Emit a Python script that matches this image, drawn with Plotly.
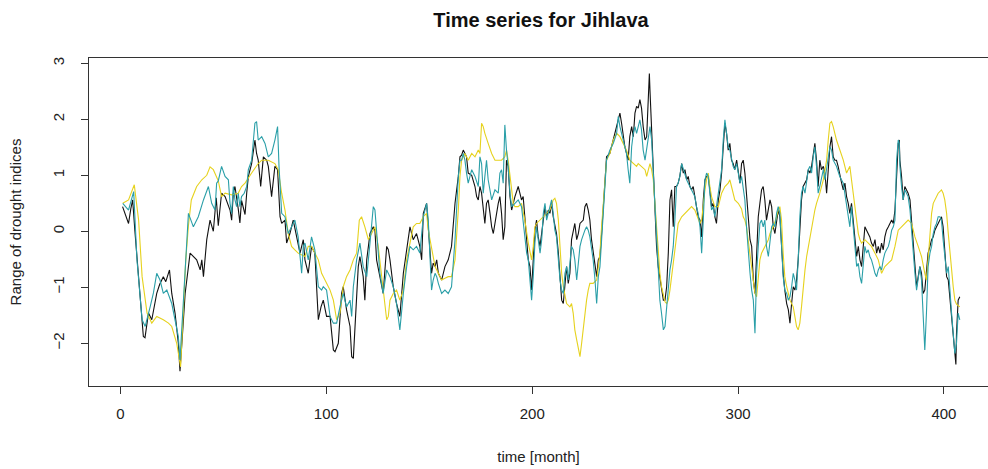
import plotly.graph_objects as go

# (month, value) readings for each drought index series
black_series = [
(1,0.44),(2.5,0.3),(3.9,0.14),(5,0.4),(5.9,0.56),(7,0.0),(8.5,-0.7),(10,-1.5),(11.1,-1.88),(11.9,-1.9),
(13.6,-1.46),(15.2,-1.58),(17.6,-1.11),(19,-0.95),(20.8,-0.81),(22,-0.9),(23.8,-0.69),(24.9,-1.11),(26.5,-1.46),
(28.1,-2.0),(28.9,-2.5),(30,-1.9),(31.4,-1.11),(33.8,-0.39),(35.5,-0.45),(37,-0.51),(38.7,-0.69),(39.5,-0.51),
(40.3,-0.81),(41.9,-0.15),(43.5,0.2),(45.1,0.0),(46.5,0.6),(47.5,0.1),(49.1,0.68),(50.8,0.62),(53.2,0.38),(54,0.2),
(54.8,0.68),(55.6,0.8),(57.2,0.4),(58,0.15),(58.8,0.55),(60.5,0.3),(61.3,0.68),(62.1,0.98),(63.7,1.21),(65.3,1.63),
(66.1,1.39),(66.9,1.27),(68.1,0.8),(69.4,1.33),(71,1.27),(71.8,1.16),(73.4,0.62),(75,1.16),(76.3,1.1),(77.5,0.26),
(78.3,0.14),(79.9,0.2),(80.7,-0.21),(82.3,-0.04),(83.9,0.2),(85.5,-0.1),(87.2,-0.39),(88.8,-0.15),(89.6,-0.51),
(91.2,-0.75),(92.8,-0.27),(94.4,-0.39),(95.3,-1.11),(96.1,-1.58),(97.4,-1.35),(98.5,-1.23),(100.1,-1.52),(101.8,-1.52),
(103.4,-2.12),(104.2,-2.15),(105.8,-2.0),(107.4,-1.11),(108.2,-0.99),(109.8,-1.4),(111.5,-1.7),(112.3,-2.24),(113.1,-2.27),
(114.7,-1.11),(115.5,-0.63),(116.3,-0.45),(117.9,-0.81),(118.7,-1.23),(119.6,-0.51),(121.2,-0.04),(122.8,0.08),(123.6,0.02),
(124.4,-0.51),(126,-0.81),(127.6,-1.11),(129.3,-0.27),(130.1,-0.33),(130.9,-0.51),(132.5,-0.99),(134.1,-1.29),(135.7,-1.52),
(137.4,-0.75),(139,-0.33),(140.6,0.08),(142.2,-0.15),(143.8,-0.04),(145.4,-0.27),(146.3,-0.51),(147.1,0.32),(148.7,0.5),
(149.5,0.08),(150.3,-0.27),(151.1,-0.75),(151.9,-0.57),(152.8,-0.63),(153.6,-0.51),(154.4,-0.75),(156,-0.87),(157.6,-0.63),
(159.2,-0.51),(160.8,-0.27),(162.5,0.5),(164.1,0.98),(164.9,1.33),(165.7,1.36),(166.5,1.45),(167.3,1.39),(168.1,1.33),
(168.9,1.04),(170.6,1.0),(172.2,0.8),(173,0.62),(173.8,0.56),(174.6,0.8),(175.4,0.68),(176.2,0.38),(177,0.14),(177.8,0.5),
(178.6,0.56),(179.5,0.32),(180.3,0.08),(181.1,-0.04),(181.9,0.14),(182.7,0.38),(183.5,0.5),(184.3,0.62),(185.1,0.32),
(185.9,-0.15),(186.7,0.08),(187.5,1.27),(188.3,1.16),(189.2,0.62),(190,0.38),(191.6,0.62),(193.2,0.8),(194,0.68),
(194.8,0.56),(195.6,0.62),(196.4,0.2),(197.3,-0.1),(198.1,-0.51),(198.9,-0.63),(199.7,-1.05),(200.5,-0.51),(201.3,0.02),
(202.1,0.2),(202.9,-0.1),(203.8,-0.27),(204.6,-0.04),(205.4,0.2),(206.2,0.44),(207,0.26),(207.8,0.38),(208.6,0.32),
(209.4,0.5),(210.2,0.26),(211,0.08),(211.8,-0.04),(212.7,-0.39),(213.5,-0.81),(214.3,-1.23),(215.1,-1.29),(215.9,-0.87),
(216.7,-0.63),(217.5,-0.93),(218.3,-0.75),(219.1,-0.15),(219.9,0.02),(220.7,0.14),(221.6,-0.15),(222.4,-0.04),(223.2,0.14),
(224.8,0.2),(225.6,0.44),(226.4,0.5),(227.2,0.38),(228,0.2),(228.8,-0.15),(229.6,-0.39),(230.5,-0.63),(231.3,-0.81),
(232.1,-0.51),(232.9,-0.45),(233.7,-0.04),(234.5,0.38),(235.3,0.9),(236.1,1.33),(237.7,1.39),(239.4,1.63),(241,1.87),
(241.8,1.99),(242.6,2.11),(243.4,1.93),(244.2,1.69),(245,1.51),(245.8,1.39),(246.6,1.27),(247.4,1.69),(248.3,1.87),
(249.1,1.69),(249.9,2.11),(250.7,2.23),(251.5,2.2),(252.3,2.35),(253.1,2.2),(253.9,1.87),(254.8,1.63),(255.6,1.69),
(256.4,2.29),(256.9,2.82),(257.2,2.52),(258,1.75),(258.8,1.16),(259.6,0.56),(260.4,-0.27),(261.2,-0.63),(262,-0.81),
(262.8,-0.99),(263.7,-1.23),(264.5,-1.23),(265.3,-0.99),(266.1,-0.39),(266.9,0.56),(267.7,0.74),(268.5,0.08),(269.3,0.8),
(270.1,0.8),(270.9,0.86),(271.7,0.98),(272.6,1.21),(273.4,1.04),(274.2,1.1),(275,0.92),(275.8,0.98),(276.6,0.8),
(277.4,0.74),(278.2,0.8),(279,0.62),(279.8,0.44),(280.6,0.26),(281.5,0.2),(282.3,-0.1),(283.1,0.56),(283.9,0.92),
(284.7,0.98),(285.5,0.98),(286.3,0.74),(287.1,0.44),(287.9,0.5),(288.7,0.26),(289.5,0.14),(290.4,0.56),(291.2,0.74),
(292,1.04),(292.8,1.51),(293.6,1.93),(294.4,1.75),(295.2,1.45),(296,1.57),(296.8,1.27),(297.6,1.21),(298.4,1.1),
(299.3,1.27),(300.1,1.04),(300.9,0.86),(301.7,1.21),(302.5,1.27),(303.3,1.04),(304.1,0.68),(304.9,0.2),(305.8,-0.15),
(306.6,-0.27),(307.4,-0.87),(308.2,-1.11),(309,-0.27),(309.8,0.26),(310.6,0.5),(311.4,0.74),(312.2,0.8),(313,0.56),
(313.8,0.2),(314.7,0.38),(315.5,0.56),(316.3,0.44),(317.1,0.08),(317.9,-0.04),(318.7,0.2),(319.5,0.38),(320.3,0.26),
(321.1,-0.27),(321.9,-0.75),(322.7,-1.05),(323.6,-1.29),(324.4,-1.4),(325.2,-1.64),(326,-1.29),(326.8,-0.99),(327.6,-1.05),
(328.4,-0.87),(329.2,-0.51),(330,0.14),(330.8,0.56),(331.6,0.8),(332.5,0.86),(333.3,0.92),(334.1,1.1),(334.9,1.04),
(335.7,1.16),(336.5,1.39),(337.3,1.57),(338.1,1.27),(338.9,0.8),(339.7,1.27),(340.5,1.1),(341.4,1.16),(342.2,1.04),
(343,0.68),(343.8,1.04),(344.6,1.51),(345.4,1.69),(346.2,1.33),(347,1.27),(347.8,1.27),(348.6,1.16),(349.4,0.98),
(350.3,0.86),(351.1,0.74),(351.9,0.86),(352.7,0.62),(353.5,0.5),(354.3,0.32),(355.1,0.5),(355.9,0.2),(356.8,-0.15),
(357.6,-0.45),(358.4,-0.27),(359.2,-0.51),(360,-0.63),(360.8,-0.27),(361.6,0.08),(362.4,0.02),(363.2,-0.04),(364,-0.1),
(364.8,-0.21),(365.7,-0.27),(366.5,-0.15),(367.3,-0.39),(368.1,-0.27),(368.9,-0.39),(369.7,-0.21),(370.5,-0.33),
(371.3,-0.1),(372.1,0.02),(373,0.08),(373.8,0.14),(374.6,0.2),(375.4,0.14),(376.2,0.38),(377,0.98),(377.8,1.57),
(378.3,1.63),(378.6,1.27),(379.4,0.98),(380.2,0.56),(381,0.8),(381.8,0.74),(382.6,0.68),(383.5,0.56),(384.3,0.2),
(385.1,-0.15),(385.9,-0.63),(386.7,-0.99),(387.5,-0.81),(388.3,-0.63),(389.1,-0.75),(389.9,-1.11),(390.7,-1.05),
(391.5,-0.75),(392.3,-0.39),(393.2,-0.27),(394,-0.15),(394.8,-0.1),(395.6,0.02),(396.4,0.08),(397.2,0.14),(398,0.2),
(398.8,0.26),(399.6,0.08),(400.4,-0.45),(401.3,-0.81),(402.1,-0.87),(402.9,-1.23),(403.7,-1.46),(404.5,-1.82),
(405.3,-2.18),(405.8,-2.38),(406.1,-1.82),(406.9,-1.23),(407.7,-1.17),
]

teal_series = [
(1.1,0.5),(3.9,0.38),(6.4,0.71),(8,-0.51),(10.5,-1.58),(12,-1.7),(14.4,-1.35),(16,-1.1),(17.6,-0.75),(19.2,-0.87),
(20.8,-1.11),(22.5,-1.05),(24.9,-1.29),(26.5,-1.58),(28.1,-1.88),(28.9,-2.3),(30.9,-1.11),(33,0.32),(35.4,0.08),
(37.8,0.26),(40.3,0.56),(42.7,0.8),(44.3,0.5),(45.9,0.38),(46.7,0.86),(47.5,0.9),(49.1,1.16),(50.8,0.98),(52.4,0.92),
(53.2,0.5),(54,0.32),(54.8,0.8),(55.6,0.56),(56.4,0.44),(57.2,0.68),(58,0.44),(58.8,0.62),(60.1,0.68),(61.3,0.8),
(62.1,1.1),(63.7,1.27),(65.3,1.93),(66.1,1.96),(66.9,1.63),(68.6,1.69),(70.2,1.57),(71.8,1.33),(73.4,1.39),(75,1.63),
(76.3,1.87),(77,1.16),(78.3,0.32),(79.9,0.26),(81.5,-0.04),(83.1,0.08),(84.7,0.2),(86.3,-0.1),(87.2,-0.45),(88,-0.75),
(88.8,-0.27),(89.6,-0.21),(91.2,-0.51),(92.8,-0.1),(94.4,-0.33),(96.1,-0.99),(97.7,-1.05),(98.5,-0.99),(100.1,-1.05),
(101.8,-1.52),(103.4,-1.64),(105,-1.64),(106.6,-1.35),(108.2,-1.11),(109.8,-1.35),(111.5,-1.23),(112.3,-1.52),
(113.1,-0.99),(114.7,-0.51),(116.3,-0.21),(117.9,-0.63),(119.6,-0.81),(121.2,-0.21),(122.8,0.44),(123.6,0.38),
(124.4,-0.04),(126,-0.75),(127.6,-1.11),(129.3,-0.69),(130.9,-0.81),(132.5,-0.99),(134.1,-1.29),(135.7,-1.76),
(137.4,-1.11),(139,-0.63),(140.6,-0.27),(142.2,-0.33),(143.8,-0.27),(145.4,-0.39),(147.1,0.26),(148.7,0.5),
(149.5,0.2),(150.3,-0.51),(151.1,-1.05),(151.9,-0.87),(152.8,-0.75),(153.6,-0.81),(154.4,-0.93),(156,-1.11),
(157.6,-1.05),(159.2,-1.11),(160.8,-0.99),(162.5,-0.15),(164.1,0.98),(164.9,1.27),(165.7,1.27),(166.5,1.39),
(167.3,1.27),(168.1,1.04),(168.9,0.86),(170.6,1.1),(172.2,0.98),(173.8,0.8),(174.6,1.33),(175.4,1.21),(176.2,0.68),
(177,0.98),(177.8,1.27),(178.6,0.92),(179.5,0.68),(180.3,0.56),(181.9,0.74),(183.5,0.68),(184.3,1.04),(185.1,1.1),
(185.9,0.86),(186.7,1.9),(187.5,1.45),(188.3,1.16),(189.2,0.68),(190,0.44),(191.6,0.5),(193.2,0.56),(194.8,0.44),
(196.4,-0.04),(197.3,-0.39),(198.1,-0.51),(199.7,-1.23),(200.5,-0.81),(201.3,-0.21),(202.1,0.08),(202.9,-0.15),
(203.8,-0.39),(204.6,-0.15),(205.4,0.32),(206.2,0.5),(207,0.2),(207.8,0.32),(208.6,0.44),(209.4,0.56),(210.2,0.32),
(211,0.02),(211.8,-0.1),(212.7,-0.51),(213.5,-0.87),(214.3,-1.05),(215.1,-1.11),(215.9,-0.75),(216.7,-0.63),
(217.5,-0.87),(218.3,-0.51),(219.1,-0.27),(219.9,-0.33),(220.7,-0.51),(221.6,-0.87),(222.4,-0.51),(223.2,-0.27),
(224,-0.15),(224.8,-0.04),(225.6,0.02),(226.4,0.08),(227.2,0.02),(228,-0.1),(228.8,-0.27),(229.6,-0.51),(230.5,-0.87),
(231.3,-1.29),(232.1,-0.81),(232.9,-0.63),(233.7,-0.15),(234.5,0.26),(235.3,0.68),(236.1,1.27),(237.7,1.45),
(239.4,1.57),(241,1.75),(241.8,2.05),(242.6,1.87),(244.2,1.63),(245.8,1.39),(246.6,1.1),(247.4,0.86),(248.3,1.51),
(249.1,1.75),(249.9,1.87),(250.7,1.75),(251.5,1.87),(252.3,1.99),(253.1,1.81),(253.9,1.45),(254.8,1.27),(255.6,1.45),
(256.4,1.69),(257.2,1.87),(258,1.63),(258.8,1.04),(259.6,0.44),(260.4,-0.27),(261.2,-0.81),(262,-1.23),(262.8,-1.46),
(263.7,-1.76),(264.5,-1.7),(265.3,-1.35),(266.1,-1.05),(266.9,-0.69),(267.7,-0.51),(268.5,-0.27),(269.3,0.2),
(270.1,0.8),(270.9,0.86),(271.7,0.98),(272.6,1.21),(273.4,1.1),(274.2,0.98),(275,0.92),(275.8,0.86),(276.6,0.8),
(277.4,0.74),(278.2,0.68),(279,0.62),(279.8,0.44),(280.6,0.32),(281.5,0.08),(282.3,-0.39),(283.1,0.2),(283.9,0.92),
(284.7,1.04),(285.5,0.98),(286.3,0.68),(287.1,0.38),(287.9,0.44),(288.7,0.26),(289.5,0.44),(290.4,0.68),(291.2,0.86),
(292,1.1),(292.8,1.63),(293.6,1.99),(294.4,1.75),(295.2,1.51),(296,1.45),(296.8,1.27),(297.6,1.16),(298.4,1.1),
(299.3,1.21),(300.1,1.04),(300.9,0.86),(301.7,0.98),(302.5,0.8),(303.3,0.56),(304.1,0.08),(304.9,-0.39),(305.8,-0.75),
(306.6,-1.05),(307.4,-1.23),(308.2,-1.82),(309,-0.75),(309.8,-0.27),(310.6,0.14),(311.4,0.2),(312.2,0.08),(313,0.2),
(313.8,-0.27),(314.7,-0.45),(315.5,-0.15),(316.3,0.08),(317.1,0.14),(317.9,0.08),(318.7,0.32),(319.5,0.44),(320.3,0.32),
(321.1,-0.39),(321.9,-0.81),(322.7,-1.05),(323.6,-1.11),(324.4,-1.23),(325.2,-1.17),(326,-0.99),(326.8,-0.75),
(327.6,-0.87),(328.4,-1.05),(329.2,-0.51),(330,0.26),(330.8,0.68),(331.6,0.8),(332.5,0.68),(333.3,0.86),(334.1,1.1),
(334.9,1.16),(335.7,1.04),(336.5,1.33),(337.3,1.51),(338.1,1.16),(338.9,0.68),(339.7,0.8),(340.5,0.98),(341.4,1.1),
(342.2,0.92),(343,1.1),(343.8,1.33),(344.6,1.51),(345.4,1.45),(346.2,1.27),(347.8,1.16),(349.4,0.98),(351.1,0.86),
(352.7,0.44),(353.5,0.2),(354.3,0.08),(355.1,0.44),(355.9,0.08),(356.8,-0.27),(357.6,-0.63),(358.4,-0.57),(359.2,-0.81),
(360,-0.93),(360.8,-0.51),(361.6,-0.27),(362.4,-0.39),(363.2,-0.33),(364,-0.45),(364.8,-0.51),(365.7,-0.63),(366.5,-0.75),
(367.3,-0.81),(368.1,-0.69),(368.9,-0.63),(369.7,-0.69),(370.5,-0.51),(371.3,-0.39),(372.1,-0.33),(373,-0.27),
(373.8,-0.15),(374.6,0.02),(375.4,0.08),(376.2,0.2),(377,1.27),(377.8,1.63),(378.3,1.57),(378.6,1.16),(379.4,0.8),
(380.2,0.56),(381,0.74),(381.8,0.68),(382.6,0.62),(383.5,0.38),(384.3,-0.04),(385.1,-0.39),(385.9,-0.75),(386.7,-1.05),
(387.5,-0.87),(388.3,-0.63),(389.1,-0.87),(389.9,-1.46),(390.7,-2.12),(391.5,-1.46),(392.3,-0.63),(393.2,-0.39),
(394,-0.27),(394.8,-0.04),(395.6,0.08),(396.4,0.14),(397.2,0.26),(398,0.26),(398.8,0.2),(399.6,-0.15),(400.4,-0.51),
(401.3,-0.75),(402.1,-0.63),(402.9,-1.11),(403.7,-1.46),(404.5,-1.82),(405.3,-2.18),(406.1,-2.0),(406.9,-1.46),
(407.7,-1.58),
]

yellow_series = [
(1.1,0.5),(3.9,0.56),(6.7,0.83),(8.8,0.2),(10.5,-0.81),(12.9,-1.46),(15.2,-1.64),(17.6,-1.52),(20.8,-1.58),(23.3,-1.64),
(24.9,-1.7),(27.3,-2.0),(29.2,-2.42),(30.5,-1.5),(31.7,-0.51),(33,0.1),(34.4,0.56),(37,0.8),(39.5,0.92),(41.9,1.0),
(43.5,1.15),(45.1,1.1),(47.5,0.9),(49.1,0.62),(50.8,0.68),(54,0.65),(57.2,0.68),(58.8,0.8),(60.5,0.86),(63.7,1.04),
(66.9,1.21),(68.6,1.27),(71.8,1.27),(75,1.21),(76.6,1.1),(78.3,0.68),(79.9,0.38),(81.5,-0.04),(83.1,-0.27),(84.7,-0.33),
(86.3,-0.39),(89.6,-0.45),(91.2,-0.27),(92.8,-0.27),(96.1,-0.51),(97.7,-0.75),(99.3,-0.87),(101.8,-1.05),(103.4,-1.23),
(105,-1.58),(106.6,-1.46),(108.2,-0.99),(109.8,-0.81),(111.5,-0.69),(113.1,-0.51),(114.7,-0.39),(116,0.2),(117.1,0.26),
(118.7,0.08),(120.4,-0.15),(122,-0.04),(123.6,0.08),(125.2,-0.27),(126.8,-0.81),(128.5,-1.35),(129.3,-1.58),(130.1,-1.52),
(130.9,-1.23),(132.5,-1.11),(134.1,-1.05),(135.7,-1.23),(137.4,-1.05),(139,-0.51),(140.6,-0.21),(142.2,0.08),
(143.8,0.14),(145.4,0.14),(147.1,0.26),(148.7,0.32),(149.5,0.02),(151.1,-0.27),(152.8,-0.63),(154.4,-0.75),(156,-0.87),
(157.6,-0.84),(159.2,-0.81),(160.8,-0.81),(162.5,-0.51),(164.1,0.38),(164.9,0.98),(165.7,1.27),(167.3,1.39),(168.9,1.27),
(170.6,1.39),(172.2,1.33),(173.8,1.45),(174.6,1.39),(175.4,1.93),(176.2,1.87),(177,1.75),(178.6,1.57),(180.3,1.39),
(181.9,1.27),(183.5,1.27),(185.1,1.27),(186.7,1.33),(187.5,1.45),(188.3,1.27),(189.2,0.98),(190,0.68),(190.8,0.5),
(191.6,0.44),(193.2,0.44),(194.8,0.5),(196.4,0.2),(198.1,-0.21),(199.7,-0.51),(200.5,-0.27),(201.3,0.08),(202.1,0.14),
(203.8,0.2),(205.4,0.26),(207,0.32),(208.6,0.38),(210.2,0.56),(211,0.59),(211.8,0.5),(212.7,0.2),(213.5,-0.27),
(214.3,-0.75),(215.1,-0.99),(216.7,-1.29),(218.3,-1.35),(219.1,-1.29),(219.9,-1.46),(220.7,-1.76),(221.6,-1.94),
(222.4,-2.12),(223.2,-2.24),(224,-2.0),(224.8,-1.7),(225.6,-1.4),(226.4,-1.23),(227.2,-1.05),(228,-0.93),(229.6,-0.93),
(231.3,-0.87),(232.1,-0.63),(232.9,-0.39),(233.7,0.08),(234.5,0.5),(235.3,0.86),(236.1,1.27),(237.7,1.39),(239.4,1.63),
(241,1.75),(242.6,1.69),(244.2,1.57),(245.8,1.45),(247.4,1.27),(249.1,1.21),(250.7,1.16),(251.5,1.21),(253.1,1.16),
(254.8,1.1),(255.6,0.98),(256.4,1.1),(257.2,1.21),(258,1.1),(258.8,0.92),(259.6,0.5),(260.4,0.08),(261.2,-0.39),
(262,-0.75),(262.8,-0.99),(263.7,-1.17),(264.5,-1.26),(265.3,-1.29),(266.1,-1.23),(266.9,-1.05),(267.7,-0.81),
(268.5,-0.51),(269.3,-0.27),(270.1,-0.04),(270.9,0.14),(272.6,0.26),(274.2,0.32),(275.8,0.38),(277.4,0.44),(279,0.38),
(280.6,0.2),(281.5,0.14),(282.3,0.2),(283.1,0.5),(283.9,0.74),(284.7,0.92),(285.5,1.04),(286.3,0.8),(287.1,0.62),
(288.7,0.44),(290.4,0.44),(292,0.68),(293.6,0.8),(295.2,0.86),(296,0.92),(296.8,0.8),(298.4,0.56),(300.1,0.5),
(301.7,0.4),(302.5,0.26),(303.3,0.2),(304.1,0.08),(304.9,-0.15),(305.8,-0.45),(306.6,-0.63),(307.4,-0.81),(308.2,-1.11),
(309,-1.17),(309.8,-0.81),(310.6,-0.51),(311.4,-0.39),(312.2,-0.33),(313.8,-0.21),(314.7,-0.15),(315.5,-0.04),
(317.1,0.08),(318.7,0.26),(319.5,0.38),(320.3,0.44),(321.1,0.2),(321.9,-0.39),(322.7,-0.81),(323.6,-0.99),(324.4,-1.11),
(325.2,-1.23),(326.8,-1.35),(327.6,-1.52),(328.4,-1.7),(329.2,-1.76),(330,-1.64),(330.8,-1.35),(331.6,-0.99),
(332.5,-0.69),(333.3,-0.45),(334.1,-0.27),(334.9,-0.1),(335.7,0.08),(336.5,0.26),(337.3,0.38),(338.1,0.5),(339.7,0.68),
(341.4,0.92),(343,1.27),(343.8,1.63),(344.6,1.93),(345.4,1.96),(346.2,1.87),(347.8,1.63),(349.4,1.45),(351.1,1.27),
(352.7,1.04),(354.3,1.16),(355.1,0.92),(355.9,0.68),(356.8,0.44),(357.6,0.2),(358.4,-0.04),(359.2,-0.15),(360,-0.21),
(361.6,-0.15),(363.2,-0.21),(364.8,-0.27),(366.5,-0.39),(368.1,-0.51),(369.7,-0.75),(370.5,-0.69),(371.3,-0.63),
(373,-0.57),(374.6,-0.51),(376.2,-0.27),(377,-0.1),(377.8,0.02),(379.4,0.08),(381,0.14),(382.6,0.2),(384.3,0.14),
(385.1,0.02),(385.9,-0.1),(387.5,-0.27),(389.1,-0.45),(390.7,-0.75),(391.5,-0.87),(392.3,-0.51),(393.2,0.0),(394,0.32),
(394.8,0.5),(395.6,0.56),(397.2,0.68),(398.8,0.74),(399.6,0.68),(400.4,0.56),(401.3,0.32),(402.1,-0.04),(402.9,-0.39),
(403.7,-0.75),(404.5,-0.99),(405.3,-1.23),(406.1,-1.3),(407.7,-1.35),
]

x_ticks = [0, 100, 200, 300, 400]
y_ticks = [-2, -1, 0, 1, 2, 3]

TITLE = "Time series for Jihlava"
X_LABEL = "time [month]"
Y_LABEL = "Range of drought indices"

FONT = "Liberation Sans, Arial, sans-serif"

fig = go.Figure()
for series, color in [(black_series, "#111111"), (yellow_series, "#E6D21E"), (teal_series, "#2A9FA8")]:
    xs = [p[0] for p in series]
    ys = [p[1] for p in series]
    fig.add_trace(go.Scatter(x=xs, y=ys, mode="lines",
                             line=dict(color=color, width=1.1),
                             showlegend=False, hoverinfo="skip"))

fig.update_layout(
    width=988, height=469,
    margin=dict(l=89, r=0, t=58, b=83),
    paper_bgcolor="white", plot_bgcolor="white",
    font=dict(family=FONT, size=15, color="#222222"),
    title=dict(text="<b>" + TITLE + "</b>", x=541 / 988, xanchor="center",
               y=1 - 20 / 469, yanchor="middle", font=dict(size=20, color="#111111")),
    xaxis=dict(range=[-15.3, 421.4], tickvals=x_ticks, ticks="outside", ticklen=7,
               tickcolor="#333333", showline=True, linecolor="#333333", linewidth=1,
               mirror=True, showgrid=False, zeroline=False,
               tickfont=dict(size=15), ticklabelstandoff=7,
               title=dict(text=X_LABEL, font=dict(size=15), standoff=30)),
    yaxis=dict(range=[-2.763, 3.095], tickvals=y_ticks, ticks="outside", ticklen=7,
               tickcolor="#333333", showline=True, linecolor="#333333", linewidth=1,
               showgrid=False, zeroline=False, tickangle=-90,
               tickfont=dict(size=15), ticklabelstandoff=11,
               title=dict(text=Y_LABEL, font=dict(size=15), standoff=24)),
)

fig.write_html("out.html")
